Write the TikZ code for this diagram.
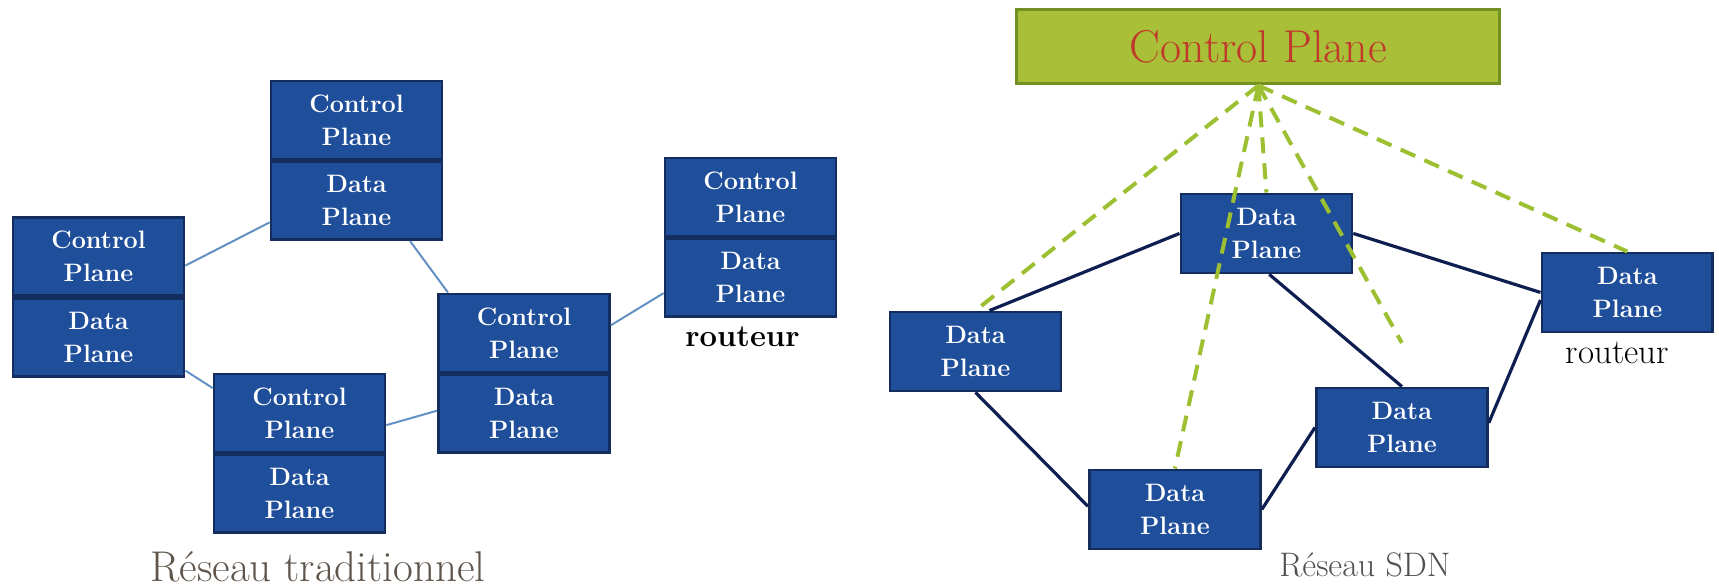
\documentclass[tikz,border=0pt]{standalone}
\usetikzlibrary{positioning}

\definecolor{planeblue}{RGB}{31,78,154}
\definecolor{planeedge}{RGB}{20,45,95}
\definecolor{linkblue}{RGB}{100,145,195}
\definecolor{sdnnavy}{RGB}{15,30,80}
\definecolor{ctrlgreen}{RGB}{157,192,50}
\definecolor{ctrlfill}{RGB}{169,191,56}
\definecolor{ctrledge}{RGB}{115,145,35}
\definecolor{ctrltext}{RGB}{192,57,43}
\definecolor{captionbrown}{RGB}{95,85,75}
\definecolor{captiongray}{RGB}{80,80,80}

\begin{document}
\begin{tikzpicture}[
    plane/.style = {draw = planeedge, line width = 1.4pt, fill = planeblue, text = white,
        font = \fontsize{12.6}{16.5}\selectfont\bfseries, align = center,
        minimum width = 85.5pt, minimum height = 39pt, inner sep = 0pt},
    oldlink/.style = {draw = linkblue, line width = 1pt},
    sdnlink/.style = {draw = sdnnavy, line width = 1.6pt},
    ctrllink/.style = {draw = ctrlgreen, line width = 2pt, dash pattern = on 8pt off 5pt}
]
    \useasboundingbox (0,0) rectangle (30.21,10.315);

    % traditional network: control and data plane in every router
    \node[plane] (Ac) at (1.731,5.808) {Control\\Plane};
    \node[plane, below = 0pt of Ac] (Ad) {Data\\Plane};
    \node[plane] (Bc) at (6.265,8.207) {Control\\Plane};
    \node[plane, below = 0pt of Bc] (Bd) {Data\\Plane};
    \node[plane] (Cc) at (5.263,3.058) {Control\\Plane};
    \node[plane, below = 0pt of Cc] (Cd) {Data\\Plane};
    \node[plane] (Dc) at (9.208,4.464) {Control\\Plane};
    \node[plane, below = 0pt of Dc] (Dd) {Data\\Plane};
    \node[plane] (Ec) at (13.189,6.853) {Control\\Plane};
    \node[plane, below = 0pt of Ec] (Ed) {Data\\Plane};
    \node[font = \fontsize{15.5}{18}\selectfont\bfseries, below = 1pt of Ed, xshift = -4pt] (routA) {routeur};

    \draw[oldlink] (Ac.-6) -- (Bd.194);
    \draw[oldlink] (Ad.-21) -- (Cc.164);
    \draw[oldlink] (Bd.-37) -- (Dc.152);
    \draw[oldlink] (Cc.-8) -- (Dd.178);
    \draw[oldlink] (Dc.5) -- (Ed.190);

    \node[text = captionbrown, font = \fontsize{21.5}{24}\selectfont, inner sep = 0pt] (capA) at (5.588,0.36) {Réseau traditionnel};

    % SDN: one control plane for all data planes
    \node[draw = ctrledge, line width = 1.5pt, fill = ctrlfill, text = ctrltext,
        font = \fontsize{23}{26}\selectfont, minimum width = 241.5pt, minimum height = 37pt]
        (ctrl) at (22.115,9.489) {Control Plane};

    \begin{scope}[every node/.append style = {plane, minimum height = 39.5pt}]
        \node (P) at (17.142,4.138) {Data\\Plane};
        \node (Q) at (22.256,6.212) {Data\\Plane};
        \node (R) at (20.648,1.362) {Data\\Plane};
        \node (S) at (24.637,2.803) {Data\\Plane};
        \node (T) at (28.600,5.175) {Data\\Plane};
    \end{scope}
    \node[font = \fontsize{17.5}{20}\selectfont, below = 1pt of T, xshift = -5pt] (routB) {routeur};

    \draw[sdnlink] (P.71) -- (Q.west);
    \draw[sdnlink] (P.south) -- (R.178);
    \draw[sdnlink] (Q.-86) -- (S.north);
    \draw[sdnlink] (Q.east) -- (T.west);
    \draw[sdnlink] (R.east) -- (S.west);
    \draw[sdnlink] (S.3) -- (T.185);

    \coordinate (gap) at (24.637,4.288);
    \draw[ctrllink] (ctrl.south) -- (P.north);
    \draw[ctrllink] (ctrl.south) -- (R.north);
    \draw[ctrllink] (ctrl.south) -- (Q.north);
    \draw[ctrllink] (ctrl.south) -- (gap);
    \draw[ctrllink] (ctrl.south) -- (T.north);

    \node[text = captiongray, font = \fontsize{17}{20}\selectfont] (capB) at (23.987,0.387) {Réseau SDN};
\end{tikzpicture}
\end{document}
